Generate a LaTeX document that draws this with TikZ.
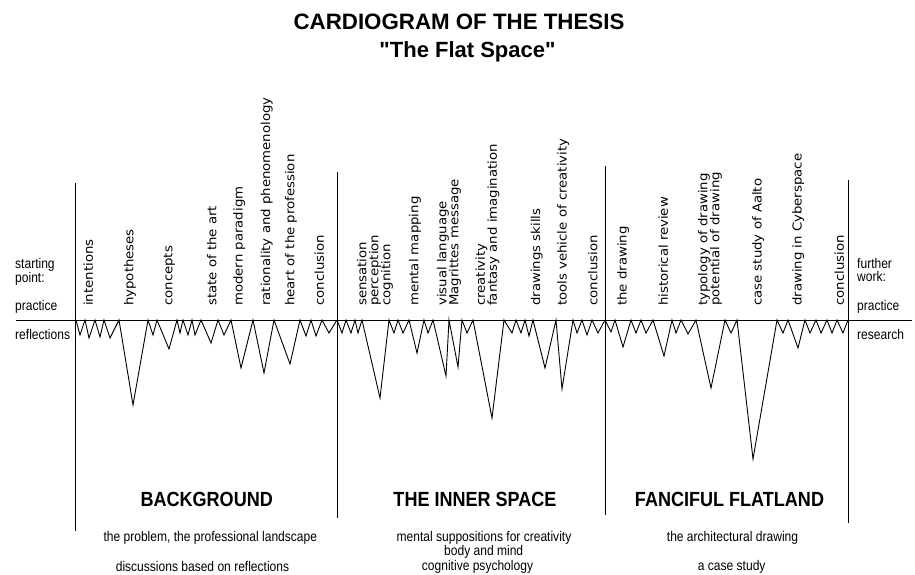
\documentclass[tikz,border=0pt]{standalone}
\usepackage{fontspec}
\setmainfont{Liberation Sans}
\newfontfamily\titlefont[Ligatures=TeXOff]{Liberation Sans}
\newfontfamily\labelfont[FakeStretch=1.08]{DejaVu Sans}
\newfontfamily\narrowfont[FakeStretch=0.86]{Liberation Sans}
\newfontfamily\headfont[FakeStretch=0.88]{Liberation Sans}
\usetikzlibrary{positioning}

\begin{document}
\begin{tikzpicture}[x=1pt,y=-1pt,
  topic/.style={rotate=90,anchor=west,inner sep=0,align=left,font=\labelfont\fontsize{12.3}{12}\selectfont},
  side/.style={anchor=base west,inner sep=0,font=\narrowfont\fontsize{14}{13.5}\selectfont},
  part/.style={anchor=base,inner sep=0,font=\headfont\bfseries\fontsize{20.5}{24}\selectfont},
  note/.style={anchor=base,inner sep=0,font=\narrowfont\fontsize{14}{14}\selectfont},
  beat/.style={line width=0.9pt,line join=miter}]
\useasboundingbox (0,0) rectangle (915,575);

% title
\node[anchor=base,font=\titlefont\bfseries\fontsize{22.3}{26}\selectfont](title) at (459,29.3) {CARDIOGRAM OF THE THESIS};
\node[anchor=base,font=\titlefont\bfseries\fontsize{22}{26}\selectfont](sub) at (467.5,57.3) {"The Flat Space"};

% frame lines
\draw[line width=0.7pt] (16,320) -- (912,320);
\draw[line width=0.7pt] (75,183) -- (75,531);
\draw[line width=0.7pt] (337,172) -- (337,518);
\draw[line width=0.7pt] (605.5,166) -- (605.5,515);
\draw[line width=0.7pt] (848.5,180) -- (848.5,523);

% side texts
\node[side,anchor=west,align=left](start) at (15,271.7) {starting\\point:};
\node[side](practL) at (15,310.5) {practice};
\node[side](refl) at (15,339) {reflections};
\node[side,anchor=west,align=left](further) at (857,270.2) {further\\work:};
\node[side](practR) at (857,310.5) {practice};
\node[side](res) at (857,339) {research};

% background
\node[topic](intent) at (88.3,306) {intentions};
\node[topic](hypo) at (130,306) {hypotheses};
\node[topic](conc) at (169.3,306) {concepts};
\node[topic](state) at (211.7,306) {state of the art};
\node[topic](modern) at (239.3,306) {modern paradigm};
\node[topic](ration) at (266.7,306) {rationality and phenomenology};
\node[topic](heart) at (291,306) {heart of the profession};
\node[topic](endA) at (319.3,306) {conclusion};

% inner space
\node[topic](sense) at (375,306) {sensation\\perception\\cognition};
\node[topic](mental) at (415,306) {mental mapping};
\node[topic](visual) at (449,306) {visual language\\Magrittes message};
\node[topic](creat) at (487.5,306) {creativity\\fantasy and imagination};
\node[topic](skill) at (536.7,306) {drawings skills};
\node[topic](tools) at (563.3,306) {tools vehicle of creativity};
\node[topic](endB) at (592.7,306) {conclusion};

% fanciful flatland
\node[topic](draw) at (623.3,306) {the drawing};
\node[topic](hist) at (663.3,306) {historical review};
\node[topic](typo) at (710,306) {typology of drawing\\potential of drawing};
\node[topic](aalto) at (758.3,306) {case study of Aalto};
\node[topic](cyber) at (798.3,306) {drawing in Cyberspace};
\node[topic](endC) at (839.3,306) {conclusion};

% the beats
\draw[beat] (76,320) -- (80,335) -- (85,320) -- (89,338) -- (95,320) -- (100,337) -- (104,320) -- (110,338) -- (119,320) -- (133,405) -- (148,320) -- (153,335) -- (157,320) -- (169,349) -- (177,320) -- (180,333) -- (183,320) -- (188,335) -- (192,320) -- (195,335) -- (201,320) -- (211,343) -- (218,320) -- (224,335) -- (231,320) -- (241,368) -- (253,320) -- (264,373) -- (274,320) -- (290,364) -- (300,320) -- (306,336) -- (311,320) -- (316,336) -- (322,320) -- (329,333) -- (337,320);
\draw[beat] (337,320) -- (342,333) -- (346,320) -- (351,333) -- (355,320) -- (358,333) -- (362,320) -- (380,398) -- (389,320) -- (394,333) -- (398,320) -- (403,333) -- (409,320) -- (417,353) -- (424,320) -- (428,333) -- (433,320) -- (446,376) -- (449,320) -- (458,367) -- (462,320) -- (467,333) -- (473,320) -- (492,418) -- (504,320) -- (512,333) -- (516,320) -- (521,333) -- (525,320) -- (529,336) -- (533,320) -- (545,368) -- (556,320) -- (562,389) -- (573,320) -- (577,333) -- (582,320) -- (587,335) -- (592,320) -- (598,333) -- (605,320);
\draw[beat] (605,320) -- (611,332) -- (615,320) -- (623,347) -- (631,320) -- (636,333) -- (641,320) -- (646,333) -- (653,320) -- (664,356) -- (672,320) -- (676,333) -- (681,320) -- (688,334) -- (696,320) -- (711,388) -- (725,320) -- (731,333) -- (737,320) -- (753,459) -- (777,320) -- (783,333) -- (788,320) -- (798,348) -- (805,320) -- (810,333) -- (816,320) -- (821,333) -- (827,320) -- (832,333) -- (837,320) -- (843,333) -- (848,320);

% parts
\node[part](bg) at (206.7,506) {BACKGROUND};
\node[part](inner) at (475,506) {THE INNER SPACE};
\node[part](flat) at (729.5,506) {FANCIFUL FLATLAND};
\node[note](bgA) at (210.3,541) {the problem, the professional landscape};
\node[note](bgB) at (202.5,571) {discussions based on reflections};
\node[note](inA) at (484,541) {mental suppositions for creativity};
\node[note](inB) at (483.7,555.5) {body and mind};
\node[note](inC) at (477.5,570) {cognitive psychology};
\node[note](flA) at (732.5,541) {the architectural drawing};
\node[note](flB) at (731.7,570.5) {a case study};
\end{tikzpicture}
\end{document}
